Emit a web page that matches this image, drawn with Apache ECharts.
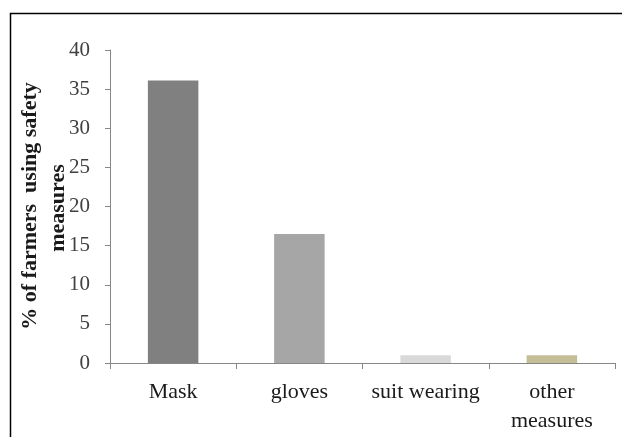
<!DOCTYPE html>
<html>
<head>
<meta charset="utf-8">
<script src="https://cdn.jsdelivr.net/npm/echarts@6/dist/echarts.min.js"></script>
<style>
  html, body { margin: 0; padding: 0; background: #fff; }
  #chart { width: 622px; height: 437px; }
</style>
</head>
<body>
<div id="chart"></div>
<script>
// Safety measures used by farmers (% of respondents)
const categories = ['Mask', 'gloves', 'suit wearing', 'other\nmeasures'];
const values = [36.1, 16.5, 1.0, 1.0];
const barColors = ['#808080', '#a6a6a6', '#d9d9d9', '#c4bd97'];
const yTicks = [0, 5, 10, 15, 20, 25, 30, 35, 40];
const titleLines = ['% of farmers  using safety', 'measures'];

const serif = '"Liberation Serif", "Times New Roman", serif';

const chart = echarts.init(document.getElementById('chart'), null, { renderer: 'canvas' });

chart.setOption({
  backgroundColor: '#ffffff',
  animation: false,
  grid: { left: 110, right: 7, top: 50, bottom: 74, containLabel: false },
  xAxis: {
    type: 'category',
    data: categories,
    axisLine: { lineStyle: { color: '#868686', width: 1 } },
    axisTick: { show: true, alignWithLabel: false, length: 6, lineStyle: { color: '#868686' } },
    axisLabel: {
      fontFamily: serif,
      fontSize: 22,
      color: '#1a1a1a',
      margin: 15,
      lineHeight: 29,
      interval: 0
    }
  },
  yAxis: {
    type: 'value',
    min: yTicks[0],
    max: yTicks[yTicks.length - 1],
    interval: 5,
    splitLine: { show: false },
    axisLine: { show: true, lineStyle: { color: '#868686', width: 1 } },
    axisTick: { show: true, length: 5, lineStyle: { color: '#868686' } },
    axisLabel: {
      fontFamily: serif,
      fontSize: 21,
      color: '#404040',
      margin: 20
    }
  },
  series: [{
    type: 'bar',
    barWidth: '40%',
    data: values.map((v, i) => ({ value: v, itemStyle: { color: barColors[i] } }))
  }],
  graphic: [
    {
      type: 'rect',
      silent: true,
      shape: { x: 10.5, y: 13.5, width: 700, height: 500 },
      style: { fill: 'none', stroke: '#000', lineWidth: 1.5 }
    },
    {
      type: 'text',
      silent: true,
      x: 30, y: 206,
      rotation: Math.PI / 2,
      style: {
        text: titleLines[0],
        fontFamily: serif, fontSize: 22, fontWeight: 'bold',
        fill: '#1a1a1a', align: 'center', verticalAlign: 'middle'
      }
    },
    {
      type: 'text',
      silent: true,
      x: 58, y: 208,
      rotation: Math.PI / 2,
      style: {
        text: titleLines[1],
        fontFamily: serif, fontSize: 22, fontWeight: 'bold',
        fill: '#1a1a1a', align: 'center', verticalAlign: 'middle'
      }
    }
  ]
});
</script>
</body>
</html>
